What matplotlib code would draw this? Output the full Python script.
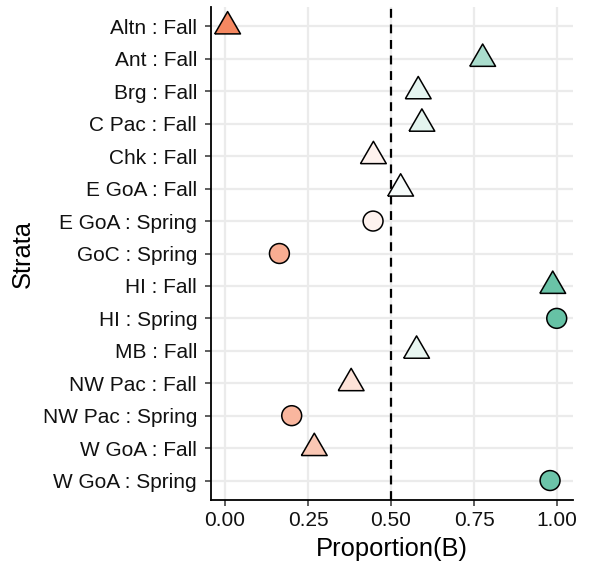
import numpy as np
import matplotlib.pyplot as plt
from matplotlib.colors import LinearSegmentedColormap, TwoSlopeNorm

plt.rcParams['font.family'] = ['Liberation Sans', 'DejaVu Sans']

# data, top to bottom
strata = ['Altn : Fall', 'Ant : Fall', 'Brg : Fall', 'C Pac : Fall', 'Chk : Fall',
          'E GoA : Fall', 'E GoA : Spring', 'GoC : Spring', 'HI : Fall', 'HI : Spring',
          'MB : Fall', 'NW Pac : Fall', 'NW Pac : Spring', 'W GoA : Fall', 'W GoA : Spring']
prop_b = [0.008, 0.776, 0.582, 0.593, 0.447,
          0.529, 0.446, 0.164, 0.987, 0.999,
          0.577, 0.380, 0.201, 0.269, 0.979]
season = [s.split(' : ')[1] for s in strata]

cmap = LinearSegmentedColormap.from_list('div', ['#f5865e', '#ffffff', '#66c2a5'])
norm = TwoSlopeNorm(vmin=0, vcenter=0.5, vmax=1)

# equilateral triangle, centroid at origin
tri = [(-1, -0.577), (1, -0.577), (0, 1.155), (-1, -0.577)]

fig = plt.figure(figsize=(5.89, 5.71), dpi=100)
ax = fig.add_axes([211 / 589, 1 - 500 / 571, 362 / 589, 493 / 571])

ypos = np.arange(len(strata))
xs = np.array(prop_b)
fall = np.array([s == 'Fall' for s in season])

ax.scatter(xs[fall], ypos[fall], marker=tri, s=460, c=xs[fall], cmap=cmap, norm=norm,
           edgecolors='black', linewidths=1.1, zorder=3)
ax.scatter(xs[~fall], ypos[~fall], marker='o', s=205, c=xs[~fall], cmap=cmap, norm=norm,
           edgecolors='black', linewidths=1.1, zorder=3)

ax.axvline(0.5, color='black', ls=(0, (4, 3)), lw=1.6, zorder=2)

ax.set_xlim(-0.042, 1.048)
ax.set_ylim(len(strata) - 1 + 0.6, -0.6)
ax.set_yticks(ypos)
ax.set_yticklabels(strata)
ax.set_xticks([0, 0.25, 0.5, 0.75, 1.0])
ax.set_xticklabels(['0.00', '0.25', '0.50', '0.75', '1.00'])

ax.grid(True, color='#ebebeb', lw=1.6, zorder=0)
ax.set_axisbelow(True)
for side in ['top', 'right']:
    ax.spines[side].set_visible(False)
for side in ['left', 'bottom']:
    ax.spines[side].set_linewidth(1.3)
    ax.spines[side].set_color('black')
ax.tick_params(length=4, width=1.1, color='#333333', labelsize=15,
               labelcolor='#111111')
ax.tick_params(axis='y', pad=6)
ax.tick_params(axis='x', pad=4)

ax.set_xlabel('Proportion(B)', fontsize=18.4, labelpad=5)
ax.set_ylabel('Strata', fontsize=18.4, labelpad=6)

fig.savefig('out.png', dpi=100)
